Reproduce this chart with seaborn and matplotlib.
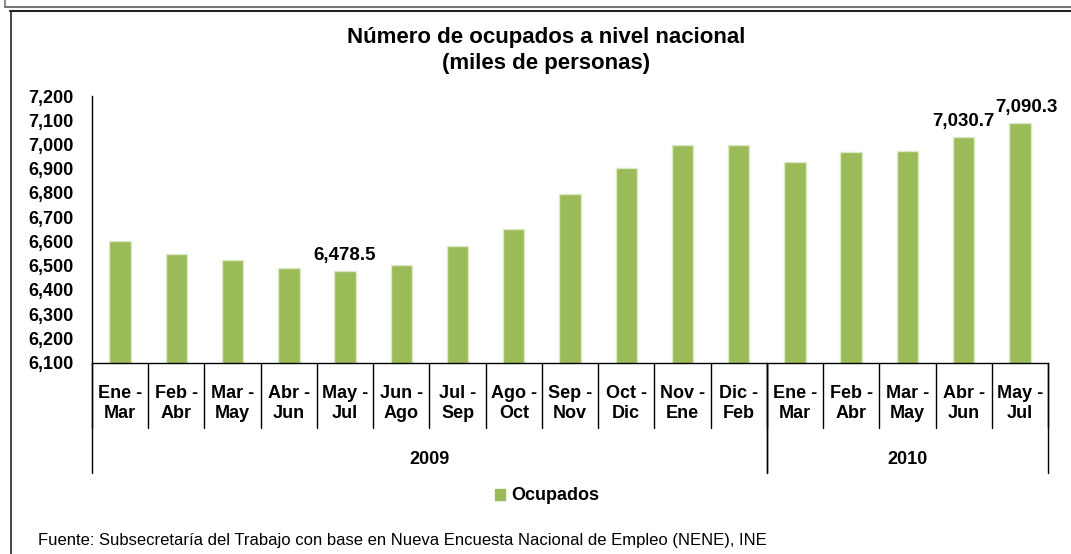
import matplotlib
matplotlib.use("Agg")
import matplotlib.pyplot as plt
import seaborn as sns
import pandas as pd
from matplotlib.ticker import FuncFormatter, MultipleLocator
from matplotlib.lines import Line2D
from matplotlib.patches import Patch

# ---- data ----
periodos = ["Ene -\nMar", "Feb -\nAbr", "Mar -\nMay", "Abr -\nJun", "May -\nJul",
            "Jun -\nAgo", "Jul -\nSep", "Ago -\nOct", "Sep -\nNov", "Oct -\nDic",
            "Nov -\nEne", "Dic -\nFeb",
            "Ene -\nMar", "Feb -\nAbr", "Mar -\nMay", "Abr -\nJun", "May -\nJul"]
anios = ["2009"] * 12 + ["2010"] * 5
ocupados = [6601, 6548, 6524, 6489, 6478.5, 6503, 6583, 6653, 6796, 6904,
            6999, 6999, 6929, 6969, 6973, 7030.7, 7090.3]
etiquetas = {4: "6,478.5", 15: "7,030.7", 16: "7,090.3"}
grupos = ["2009", "2010"]
titulo = ["Número de ocupados a nivel nacional", "(miles de personas)"]
serie = "Ocupados"
fuente = "Fuente: Subsecretaría del Trabajo con base en Nueva Encuesta Nacional de Empleo (NENE), INE"

sns.set_theme(style="white")
plt.rcParams["font.family"] = ["Liberation Sans", "DejaVu Sans"]
plt.rcParams["text.color"] = "black"
plt.rcParams["axes.labelcolor"] = "black"
plt.rcParams["xtick.color"] = "black"
plt.rcParams["ytick.color"] = "black"

W, H = 1071, 554
fig = plt.figure(figsize=(W / 100, H / 100), dpi=100)
ax_left, ax_right, ax_top, ax_bot = 92, 1048, 96, 362.7
ax = fig.add_axes([ax_left / W, 1 - ax_bot / H, (ax_right - ax_left) / W, (ax_bot - ax_top) / H])

df = pd.DataFrame({"id": [f"{a}-{i}" for i, a in enumerate(anios)],
                   "valor": ocupados})
green = "#9BBB59"
sns.barplot(data=df, x="id", y="valor", color=green, width=0.38, saturation=1,
            edgecolor="#DDE8C6", linewidth=1, ax=ax)

ax.set_ylim(6100, 7200)
ax.set_xlim(-0.5, len(ocupados) - 0.5)
ax.yaxis.set_major_locator(MultipleLocator(100))
ax.yaxis.set_major_formatter(FuncFormatter(lambda v, p: f"{v:,.0f}"))
ax.set_xlabel("")
ax.set_ylabel("")
ax.set_xticks(range(len(periodos)))
ax.set_xticklabels(periodos, fontsize=13, fontweight="bold", linespacing=1.25)
ax.tick_params(axis="x", length=0, pad=16, colors="black")
ax.tick_params(axis="y", length=0, pad=13.5, labelsize=13, colors="black")
for t in ax.get_yticklabels():
    t.set_fontweight("bold")

for s in ["top", "right"]:
    ax.spines[s].set_visible(False)
for s in ["left", "bottom"]:
    ax.spines[s].set_color("black")
    ax.spines[s].set_linewidth(1.0)

# category separators
axh = ax_bot - ax_top
trans = ax.get_xaxis_transform()
n = len(periodos)
for i in range(n + 1):
    x = i - 0.5
    ax.plot([x, x], [0, -65 / axh], color="black", lw=1, transform=trans, clip_on=False)
# group separators and year labels
start = -0.5
for g in grupos:
    cnt = anios.count(g)
    end = start + cnt
    for x in (start, end):
        ax.plot([x, x], [0, -110 / axh], color="black", lw=1, transform=trans, clip_on=False)
    ax.text((start + end) / 2, -(459 - ax_bot) / axh, g, transform=trans,
            ha="center", va="center", fontsize=13, fontweight="bold")
    start = end

# data labels
for i, lab in etiquetas.items():
    dx = 5 if i == len(ocupados) - 1 else 0
    ax.annotate(lab, (i, ocupados[i]), xytext=(dx, 5), textcoords="offset points",
                ha="center", va="bottom", fontsize=13.5, fontweight="bold", annotation_clip=False)

# title
fig.text(546 / W, 1 - 38 / H, titulo[0], ha="center", va="center", fontsize=16, fontweight="bold")
fig.text(546 / W, 1 - 63 / H, titulo[1], ha="center", va="center", fontsize=16, fontweight="bold")

# legend
leg = fig.legend([Patch(facecolor=green, edgecolor=green)], [serie], loc="center",
                 bbox_to_anchor=(547 / W, 1 - 496 / H),
                 frameon=False, handlelength=0.55, handleheight=0.55, handletextpad=0.35,
                 prop={"size": 13, "weight": "bold"})

# footer
fig.text(38 / W, 1 - 541 / H, fuente, ha="left", va="center", fontsize=12)

# frame lines
def fl(x0, y0, x1, y1, c="#333333", lw=1.2):
    fig.add_artist(Line2D([x0 / W, x1 / W], [1 - y0 / H, 1 - y1 / H], color=c, lw=lw,
                          transform=fig.transFigure))
fl(5, 6.5, W, 6.5, c="#777777", lw=1.5)
fl(5, 0, 5, 6.5, c="#777777", lw=1.2)
fl(10, 11, W, 11, c="#222222", lw=1.5)
fl(10.5, 11, 10.5, H, c="#222222", lw=1.2)

fig.savefig("out.png", dpi=100)
